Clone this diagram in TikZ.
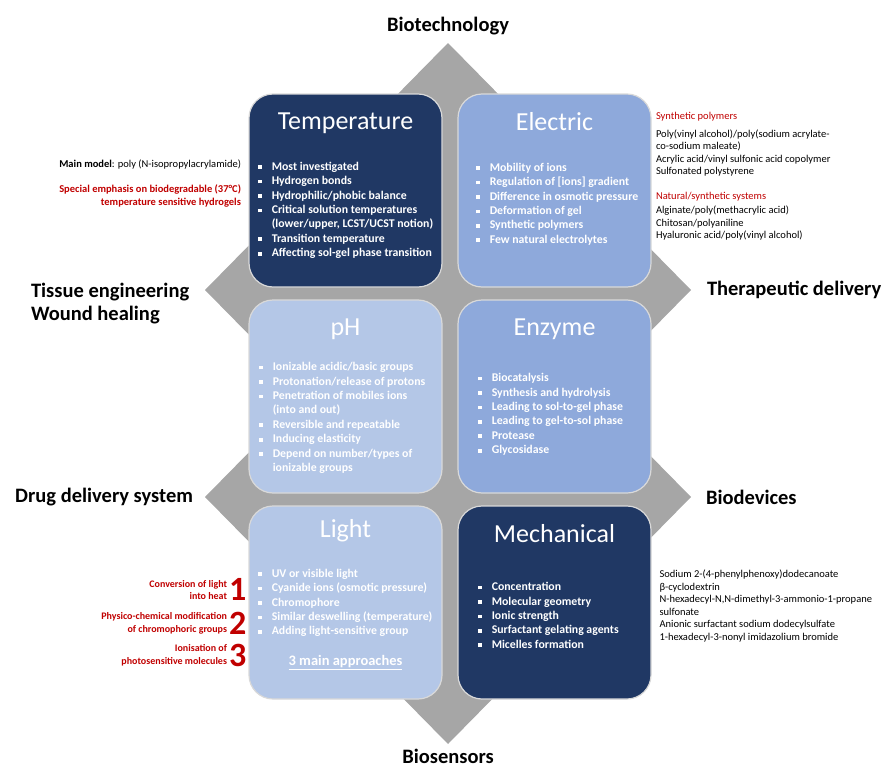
\documentclass[tikz,border=0pt]{standalone}
\usepackage{fontspec}
\setmainfont{Carlito}
\usetikzlibrary{positioning}
\definecolor{navycolor}{RGB}{32,56,100}
\definecolor{midcolor}{RGB}{142,169,219}
\definecolor{palecolor}{RGB}{180,199,231}
\definecolor{diamondcolor}{RGB}{166,166,166}
\definecolor{notecolor}{RGB}{192,0,0}
\newcommand{\sq}{\rule[0.1em]{0.32em}{0.32em}}
\newcommand{\itemlist}[1]{\begin{tabular}{@{}l@{\hspace{10pt}}l@{}}#1\end{tabular}}

\begin{document}
\begin{tikzpicture}[x=1pt, y=-1pt, node distance=13pt,
  every node/.style={inner sep=0pt, outer sep=0pt},
  panel/.style={draw=white!85!black, line width=1.2pt, rounded corners=24pt,
    minimum width=193pt, minimum height=193pt},
  paneltitle/.style={text=white, font=\fontsize{26}{30}\selectfont},
  itemtext/.style={text=white, font=\fontsize{11.8}{14.45}\selectfont\bfseries},
  note/.style={align=left, font=\fontsize{10.5}{12.5}\selectfont},
  rednote/.style={note, align=right, text=notecolor, font=\fontsize{10.5}{12.5}\selectfont\bfseries},
  lightnote/.style={rednote, font=\fontsize{10}{12.5}\selectfont\bfseries},
  bignum/.style={text=notecolor, font=\fontsize{34}{34}\selectfont\bfseries},
  side/.style={font=\fontsize{20.5}{23}\selectfont\bfseries}]
  \useasboundingbox (0,0) rectangle (887,771);

  \fill[diamondcolor] (448,43) -- (205,290) -- (448,537) -- (691,290) -- cycle;
  \fill[diamondcolor] (448,250) -- (205,497) -- (448,744) -- (691,497) -- cycle;
  \coordinate (toptip) at (448,43);
  \coordinate (uppertip) at (691,290);
  \coordinate (lowerleft) at (205,497);
  \coordinate (lowerright) at (691,497);
  \coordinate (bottomtip) at (448,744);

  \node[panel, fill=navycolor, anchor=north west] (temp) at (249,94) {};
  \node[panel, fill=midcolor, right=16pt of temp] (elec) {};
  \node[panel, fill=palecolor, below=13pt of temp] (ph) {};
  \node[panel, fill=midcolor, right=16pt of ph] (enz) {};
  \node[panel, fill=palecolor, below=13pt of ph] (light) {};
  \node[panel, fill=navycolor, right=16pt of light] (mech) {};

  \node[paneltitle, below=19pt of temp.north] (temptitle) {Temperature};
  \node[paneltitle, below=18pt of elec.north] (electitle) {Electric};
  \node[paneltitle, below=19pt of ph.north] (phtitle) {pH};
  \node[paneltitle, below=19pt of enz.north] (enztitle) {Enzyme};
  \node[paneltitle, below=13.5pt of light.north] (lighttitle) {Light};
  \node[paneltitle, below=18pt of mech.north] (mechtitle) {Mechanical};

  \node[itemtext, below right=66pt and 9pt of temp.north west] (templist) {\itemlist{%
    \sq & Most investigated\\
    \sq & Hydrogen bonds\\
    \sq & Hydrophilic/phobic balance\\
    \sq & Critical solution temperatures\\
        & (lower/upper, LCST/UCST notion)\\
    \sq & Transition temperature\\
    \sq & Affecting sol-gel phase transition}};
  \node[itemtext, below right=67pt and 18pt of elec.north west] (eleclist) {\itemlist{%
    \sq & Mobility of ions\\
    \sq & Regulation of [ions] gradient\\
    \sq & Difference in osmotic pressure\\
    \sq & Deformation of gel\\
    \sq & Synthetic polymers\\
    \sq & Few natural electrolytes}};
  \node[itemtext, below right=60.5pt and 10pt of ph.north west] (phlist) {\itemlist{%
    \sq & Ionizable acidic/basic groups\\
    \sq & Protonation/release of protons\\
    \sq & Penetration of mobiles ions\\
        & (into and out)\\
    \sq & Reversible and repeatable\\
    \sq & Inducing elasticity\\
    \sq & Depend on number/types of\\
        & ionizable groups}};
  \node[itemtext, below right=71.5pt and 20pt of enz.north west] (enzlist) {\itemlist{%
    \sq & Biocatalysis\\
    \sq & Synthesis and hydrolysis\\
    \sq & Leading to sol-to-gel phase\\
    \sq & Leading to gel-to-sol phase\\
    \sq & Protease\\
    \sq & Glycosidase}};
  \node[itemtext, below right=61pt and 9pt of light.north west] (lightlist) {\itemlist{%
    \sq & UV or visible light\\
    \sq & Cyanide ions (osmotic pressure)\\
    \sq & Chromophore\\
    \sq & Similar deswelling (temperature)\\
    \sq & Adding light-sensitive group}};
  \node[itemtext, font=\fontsize{14.5}{17}\selectfont\bfseries, below=149pt of light.north] (approaches) {\underline{3 main approaches}};
  \node[itemtext, below right=74.5pt and 20pt of mech.north west] (mechlist) {\itemlist{%
    \sq & Concentration\\
    \sq & Molecular geometry\\
    \sq & Ionic strength\\
    \sq & Surfactant gelating agents\\
    \sq & Micelles formation}};

  \node[side, above=8pt of toptip] (biotech) {Biotechnology};
  \node[side, align=left, anchor=north west] (tissue) at (31,283) {Tissue engineering\\Wound healing};
  \node[side, right=16pt of uppertip] (therapeutic) {Therapeutic delivery};
  \node[side, left=12pt of lowerleft] (drug) {Drug delivery system};
  \node[side, right=15pt of lowerright] (biodevices) {Biodevices};
  \node[side, below=5pt of bottomtip] (biosensors) {Biosensors};

  \node[note, anchor=north east] (modelnote) at (241,160) {\textbf{Main model}: poly (N-isopropylacrylamide)};
  \node[rednote, anchor=north east] (emphasisnote) at (241,185) {Special emphasis on biodegradable (37°C)\\temperature sensitive hydrogels};

  \node[note, text=notecolor, anchor=north west] (synthhead) at (656,112) {Synthetic polymers};
  \node[note, anchor=north west] (synthlist) at (656,129.5) {Poly(vinyl alcohol)/poly(sodium acrylate-\\co-sodium maleate)\\Acrylic acid/vinyl sulfonic acid copolymer\\Sulfonated polystyrene};
  \node[note, text=notecolor, anchor=north west] (naturalhead) at (656,192) {Natural/synthetic systems};
  \node[note, anchor=north west] (naturallist) at (656,206) {Alginate/poly(methacrylic acid)\\Chitosan/polyaniline\\Hyaluronic acid/poly(vinyl alcohol)};

  \node[note, anchor=north west] (surfactants) at (659.5,570) {Sodium 2-(4-phenylphenoxy)dodecanoate\\β-cyclodextrin\\N-hexadecyl-N,N-dimethyl-3-ammonio-1-propane\\sulfonate\\Anionic surfactant sodium dodecylsulfate\\1-hexadecyl-3-nonyl imidazolium bromide};

  \node[lightnote, anchor=north east] (conversion) at (227,580) {Conversion of light\\into heat};
  \node[lightnote, anchor=north east] (modification) at (227,612.6) {Physico-chemical modification\\of chromophoric groups};
  \node[lightnote, anchor=north east] (ionisation) at (227,644.6) {Ionisation of\\photosensitive molecules};
  \node[bignum, right=2pt of conversion] (num1) {1};
  \node[bignum, right=2pt of modification] (num2) {2};
  \node[bignum, right=2pt of ionisation] (num3) {3};
\end{tikzpicture}
\end{document}
